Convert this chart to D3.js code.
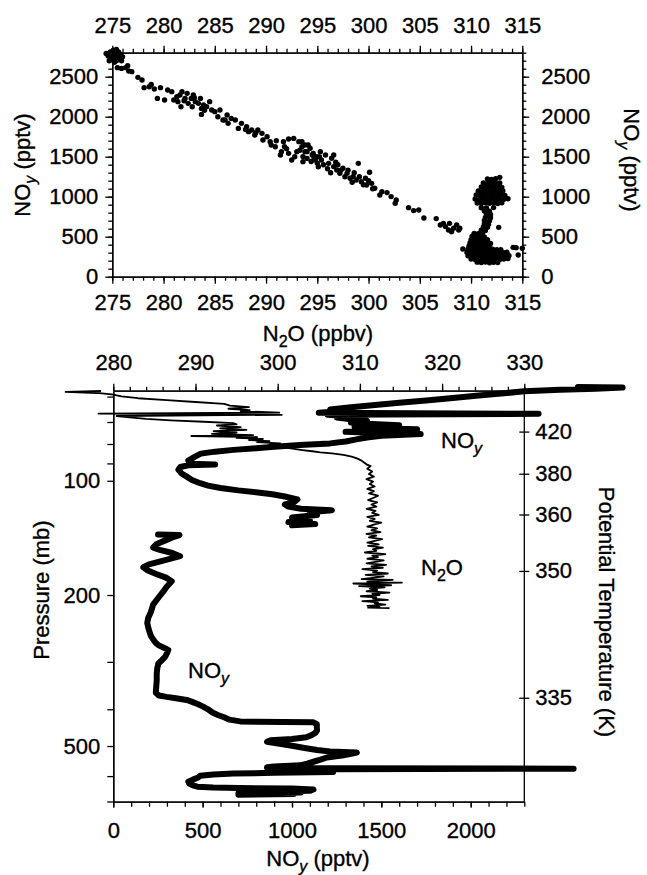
<!DOCTYPE html>
<html>
<head>
<meta charset="utf-8">
<script src="https://d3js.org/d3.v7.min.js"></script>
<style>
body { margin: 0; background: #fff; }
text { font-family: "Liberation Sans", Arial, Helvetica, sans-serif; font-size: 22px; fill: #000; stroke: #000; stroke-width: 0.35; }
.axis path, .axis line { stroke: #000; stroke-width: 1.3; }
</style>
</head>
<body>
<svg width="647" height="875"></svg>
<script>
// ---- top panel: NOy vs N2O scatter ----
var n2oTicksTop = [275, 280, 285, 290, 295, 300, 305, 310, 315];
var noyTicksTop = [0, 500, 1000, 1500, 2000, 2500];

var scatterClump = [[274.4,2790],[274.6,2760],[274.8,2810],[274.9,2720],[275.0,2770],[275.1,2830],[275.2,2740],
  [275.3,2790],[275.4,2700],[275.5,2760],[275.6,2810],[275.7,2730],[275.8,2780],[275.4,2840],[274.7,2700],
  [275.9,2700],[276.0,2750],[275.2,2680]];
var scatterBand = [[275.5,2613],[275.9,2604],[276.3,2613],[276.5,2638],[276.6,2571],[276.9,2563],[277.5,2492],
  [277.9,2459],[278.1,2363],[278.6,2375],[278.8,2404],[279.1,2346],[279.4,2229],[279.7,2363],[280.1,2208],
  [280.4,2333],[280.8,2313],[281.0,2208],[281.3,2250],[281.6,2271],[281.8,2313],[282.1,2229],[282.3,2292],
  [282.4,2167],[282.7,2229],[282.9,2271],[283.1,2188],[283.4,2167],[283.6,2229],[283.7,2104],[283.9,2146],
  [281.7,2125],[281.4,2188],[282.8,2125],[283.7,2029],[284.2,2125],[284.5,2188],[284.7,2083],[285.0,2063],
  [285.3,2000],[285.5,2083],[285.8,1958],[286.2,2021],[286.3,1917],[286.6,1979],[287.0,1958],[287.3,1854],
  [287.6,1917],[288.1,1875],[288.3,1813],[288.6,1833],[288.9,1771],[289.2,1833],[289.6,1792],[289.7,1708],
  [290.1,1750],[290.4,1688],[290.5,1646],[290.9,1625],
  [291.7,1688],[292.2,1721],[292.7,1729],[293.2,1688],[293.5,1625],[293.0,1563],[292.2,1542],[291.5,1563],
  [291.8,1625],[291.4,1521],[292.5,1458],[292.8,1500],[293.8,1563],[294.1,1646],[294.5,1521],[294.8,1458],
  [295.1,1375],[294.0,1479],[293.6,1438],
  [293.5,1688],[293.8,1646],[294.0,1563],[294.3,1605],[294.6,1542],[293.6,1501],[294.9,1501],[295.3,1563],
  [295.4,1459],[295.8,1521],[296.1,1417],[296.4,1480],[296.6,1521],[296.6,1376],[296.9,1334],[297.2,1292],
  [297.5,1355],[297.9,1292],[298.2,1230],[298.5,1251],[298.8,1209],[299.0,1417],[299.3,1188],[299.7,1230],
  [299.8,1147],[300.1,1305],[300.3,1167],[300.6,1105],[301.1,1021],[301.3,1063],[301.8,1051],[302.2,1001],
  [302.7,959],[302.6,917],[303.9,863],[304.4,826],[304.9,834],[305.4,734],[306.6,726],
  [295.0,1420],[295.6,1400],[296.0,1350],[295.2,1500],[294.4,1440],[296.3,1300],[297.0,1400],[297.7,1250],
  [298.0,1330],[298.4,1180],[299.1,1250],[299.5,1150],[300.0,1200],[300.4,1100],
  [282.0,2200],[283.0,2240],[284.0,2080],[286.0,1960],[288.0,1840],[289.0,1800],[291.0,1700],[292.0,1600],
  [293.3,1580],[294.7,1480],[296.8,1430],[297.3,1330],[298.6,1300]];
var scatterTropo = [[307.0,646],[307.5,626],[307.9,667],[308.3,605],[308.6,646],[308.9,605],[307.8,584],
  [307.3,667],[308.1,563],[308.8,584],[309.2,346],
  // dense cloud at the tropopause
  [310.6,182],[311.0,176],[311.4,184],[311.8,175],[312.2,181],[312.6,178],
  [310.0,222],[310.4,216],[310.8,224],[311.2,214],[311.6,221],[312.0,217],[312.4,223],[312.8,215],[313.2,220],[313.6,226],
  [309.7,262],[310.1,256],[310.5,264],[310.9,258],[311.3,262],[311.7,255],[312.1,263],[312.5,258],[312.9,261],[313.3,257],[313.7,264],
  [309.6,302],[310.0,296],[310.4,304],[310.8,298],[311.2,303],[311.6,297],[312.0,301],[312.4,296],[312.8,303],[313.2,299],[313.5,305],
  [309.7,342],[310.1,336],[310.5,344],[310.9,338],[311.3,341],[311.7,337],[312.1,343],[312.5,339],[312.9,336],
  [309.8,382],[310.2,376],[310.6,384],[311.0,378],[311.4,381],[311.8,377],
  [309.9,422],[310.3,417],[310.7,424],[311.1,418],[311.5,421],[311.9,416],
  [310.0,462],[310.4,456],[310.8,463],[311.2,457],[311.6,461],
  [310.1,502],[310.5,497],[310.9,504],[311.3,498],
  [310.3,542],[310.7,536],[311.1,544],
  [311.0,582],[311.4,578],[311.2,622],[311.6,618],[311.3,662],[311.7,657],[311.3,702],[311.8,698],
  [311.4,742],[311.9,737],[311.5,782],[311.9,778],[311.3,822],[311.8,818],[311.0,862],[311.5,858],[312.2,864],
  [312.7,617],[314.1,367],[314.4,363],[314.6,271],[315.0,355],
  [310.6,922],[311.0,916],[311.4,924],[311.8,918],[312.2,921],[312.6,915],[313.0,923],
  [310.4,972],[310.8,966],[311.2,974],[311.6,968],[312.0,971],[312.4,965],[312.8,973],[313.2,967],[313.6,975],
  [310.5,1022],[310.9,1016],[311.3,1024],[311.7,1018],[312.1,1021],[312.5,1015],[312.9,1023],[313.3,1017],
  [310.7,1072],[311.1,1066],[311.5,1074],[311.9,1068],[312.3,1071],[312.7,1065],[313.1,1073],
  [311.0,1122],[311.4,1116],[311.8,1124],[312.2,1118],[312.6,1121],[313.0,1115],
  [311.2,1172],[311.6,1166],[312.0,1174],[312.4,1168],[312.8,1171],
  [311.6,1222],[312.0,1216],[312.4,1224],[312.8,1242]];

// ---- bottom panel: vertical profiles ----
var n2oTicksBot = [280, 290, 300, 310, 320, 330];
var noyTicksBot = [0, 500, 1000, 1500, 2000];
var pressTicks = [100, 200, 500];
var pressMinor = [60, 70, 80, 90, 300, 400, 600, 700];
var thetaTicks = [420, 380, 360, 350, 335];
var thetaPress = [74.2, 95.8, 122.7, 172.8, 373];

// [pressure mb, NOy pptv]
var noyLower = [[672,700],[669,1010],[666,700],[663,1050],[660,760],[656,1100],[651,1120],[647,1000],[645,700],
  [643,560],[640,470],[635,445],[628,425],[621,420],[613,445],[605,475],[599,486],[594,560],[591,672],[588,900],
  [585,1230],[576,1230],[573.5,2576],[572,1230],[571,1100],[569,860],[566,900],[562,1045],[556,1085],[550,1120],
  [543,1160],[536,1195],[530,1280],[524,1330],[520,1363],[517,1213],[512,1140],[506,1070],[500,1008],[494,940],
  [487,860],[483,880],[479,1000],[474,1080],[468,1110],[462,1130],[455,1140],[446,1139],[438,1139],[433,1120],
  [432,950],[431.5,800],[430.5,710],[426,650],[420,620],[414,585],[408,555],[400,530],[393,500],[388,475],
  [383,445],[378,411],[374,350],[371,299],[368,255],[362,238],[350,240],[336,243],[322,243],[312,246],[303,252],
  [297,272],[291,290],[285,300],[279,308],[275,280],[271,252],[267,236],[262,224],[257,212],[252,205],[244,196],
  [237,190],[230,195],[222,210],[212,223],[204,250],[196,279],[190,300],[184,327],[180,295],[176,240],[172,190],
  [169,168],[166,200],[162,285],[158,374],[155,330],[152,260],[150,223],[147,240],[144,285],[141,330],[139,370],
  [138.5,250]];
var noyUpper = [[131,1000],[130,1130],[128.5,980],[127,1100],[125,1000],[123,1140],[121,1100],[119.5,1223],
  [118.5,1050],[117,980],[115.5,960],[114,1010],[112,1030],[110,960],[108.5,890],[107.5,820],[106,700],[104.5,600],
  [103,530],[101.5,486],[99.5,440],[97.5,411],[95.5,380],[93.5,364],[92,375],[91,420],[90.6,570],[90.2,430],
  [88.5,420],[86.5,455],[84.8,490],[83.8,570],[82.9,672],[82.1,800],[81.3,900],[80.5,1045],[79.7,1213],
  [78.8,1300],[77.8,1360],[76.9,1420],[76.1,1500],[75.3,1720],[74.8,1480],[74.3,1300],[73.7,1500],[73.2,1700],
  [72.6,1420],[72,1350],[71.4,1600],[70.8,1420],[70.2,1330],[69.5,1420],[68.8,1320],[68.1,1250],[67.5,1300],
  [67.0,1200],[66.6,2380],[66.2,1150],[65.6,1260],[64.9,1213],[64.0,1330],[63.2,1450],[62.3,1600],[61.4,1750],
  [60.5,1900],[59.7,2030],[58.9,2170],[58.1,2300],[57.6,2500],[57.2,2700],[56.8,2850],[56.6,2600]];
// [pressure mb, N2O ppbv]
var n2oProfile = [[216.5,313.6],[216,311.0],[215,312.4],[213.5,310.9],[212,313.1],[210.5,311.8],[209,312.2],
  [207.5,310.3],[206,313.4],[204.5,311.6],[203,312.0],[201.5,310.1],[200,312.4],[198.5,311.5],[197,313.6],
  [195.5,310.8],[194,312.1],[192.5,311.2],[191,313.0],[189.5,309.9],[188.5,313.8],[187.5,311.3],[186.5,309.2],
  [185.5,315.1],[184.5,310.9],[183.5,312.2],[182.5,314.0],[181.5,310.2],[180,311.8],[178.5,312.9],[177,310.7],
  [175.5,313.4],[174,311.6],[172.5,312.1],[171,310.3],[169.5,312.8],[168,311.4],[166.5,313.2],[165,310.8],
  [163.5,311.9],[162,312.9],[160.5,310.9],[159,312.2],[157.5,311.5],[156,313.1],[154.5,310.6],[153,312.0],
  [151.5,311.6],[150,312.8],[148.5,311.0],[147,312.3],[145.5,310.9],[144,311.8],[142.5,312.7],[141,311.1],
  [139.5,312.0],[138,310.8],[136.5,312.5],[135,311.4],[133.5,312.1],[132,310.9],[130.5,311.7],[129,312.6],
  [127.5,311.2],[126,311.8],[124.5,310.9],[123,312.3],[121.5,311.5],[120,311.9],[118.5,310.8],[117,312.0],
  [115.5,311.4],[114,312.1],[112.5,311.0],[111,311.6],[109.5,312.2],[108,311.1],[106.5,311.7],[105,310.9],
  [103.5,311.8],[102,311.2],[100.5,311.6],[99,310.8],[97.5,311.7],[96,311.1],[94.5,311.5],[93,310.9],
  [91.5,311.3],[90.5,310.8],
  [89.5,310.5],[88.5,310.2],[87.4,309.7],[86.4,309.0],[85.5,308.0],[84.7,306.6],[84.2,305.2],[83.6,304.2],
  [83.0,303.0],[82.2,301.6],[81.5,300.5],[80.9,300.0],[80.3,299.0],[79.7,300.3],[79.1,297.5],[78.6,299.0],
  [78.1,296.5],[77.6,298.2],[77.1,295.0],[76.7,297.5],[76.2,289.5],[75.8,297.0],[75.2,292.0],[74.6,295.0],
  [74.0,292.2],[73.4,296.2],[72.8,293.0],[72.2,295.5],[71.5,292.6],[71.0,295.0],[70.5,294.6],[69.9,291.0],
  [69.3,287.0],[68.7,284.0],[68.1,282.0],[67.5,280.4],[67.0,300.5],[66.5,278.2],[66.1,300.2],[65.6,295.5],
  [65.1,296.6],[64.6,294.0],[64.0,296.5],[63.4,294.2],[62.7,293.5],[62.0,290.0],[61.3,286.5],[60.6,283.0],
  [59.9,281.0],[59.2,279.8],[58.7,278.0],[58.3,274.2],[58.0,278.5]];

var svg = d3.select("svg");

// scales
var x1 = d3.scaleLinear().domain([275, 315]).range([112.3, 522.3]);
var y1 = d3.scaleLinear().domain([0, 2800]).range([276.7, 52.7]);
var xN = d3.scaleLinear().domain([280, 330]).range([113.3, 524.3]);
var xV = d3.scaleLinear().domain([0, 2300]).range([113.3, 524.3]);
var yP = d3.scaleLog().domain([700, 58]).range([801.5, 391]);

function axis(gen, scale, tx, ty, majors, minors, big, small, pad, fmt) {
  svg.append("g").attr("class", "axis")
    .attr("transform", "translate(" + tx + "," + ty + ")")
    .call(gen(scale).tickValues(minors).tickSize(small).tickSizeOuter(0).tickFormat(""));
  var g = svg.append("g").attr("class", "axis")
    .attr("transform", "translate(" + tx + "," + ty + ")")
    .call(gen(scale).tickValues(majors).tickSize(big).tickSizeOuter(0).tickPadding(pad)
      .tickFormat(fmt || d3.format("d")));
  g.attr("font-size", null).attr("font-family", null);
  return g;
}

// top panel frame
axis(d3.axisTop, x1, 0, 52.7, n2oTicksTop, d3.range(275, 316, 1), 7, 4, 13);
axis(d3.axisBottom, x1, 0, 276.7, n2oTicksTop, d3.range(275, 316, 1), 7, 4, 11);
axis(d3.axisLeft, y1, 112.3, 0, noyTicksTop, d3.range(0, 2801, 100), 7, 4, 7);
axis(d3.axisRight, y1, 522.3, 0, noyTicksTop, d3.range(0, 2801, 100), 7, 4, 12);

svg.append("g").selectAll("circle")
  .data(scatterClump.concat(scatterBand, scatterTropo))
  .enter().append("circle")
  .attr("cx", function(d) { return x1(d[0]); })
  .attr("cy", function(d) { return y1(d[1]); })
  .attr("r", 2.7)
  .attr("fill", "#000");

// bottom panel frame
axis(d3.axisTop, xN, 0, 390.7, n2oTicksBot, d3.range(280, 331, 2), 7, 4, 14);
axis(d3.axisBottom, xV, 0, 801.7, noyTicksBot, d3.range(0, 2301, 100), 6, 5, 15);
axis(d3.axisLeft, yP, 113.3, 0, pressTicks, pressMinor, 6, 6, 7);
var rt = svg.append("g").attr("class", "axis")
  .attr("transform", "translate(524.3,0)")
  .call(d3.axisRight(yP).tickValues(thetaPress).tickSize(5).tickSizeOuter(0).tickPadding(6)
    .tickFormat(function(d, i) { return thetaTicks[i]; }));
rt.attr("font-size", null).attr("font-family", null);
rt.selectAll(".tick line").attr("x1", -5);
rt.select(".domain").attr("d", "M0," + yP(700) + "V" + yP(58));

var lineV = d3.line().x(function(d) { return xV(d[1]); }).y(function(d) { return yP(d[0]); });
var lineN = d3.line().x(function(d) { return xN(d[1]); }).y(function(d) { return yP(d[0]); });

svg.append("path").attr("d", lineN(n2oProfile))
  .attr("fill", "none").attr("stroke", "#000").attr("stroke-width", 1.8).attr("stroke-linejoin", "round");
[noyLower, noyUpper].forEach(function(s) {
  svg.append("path").attr("d", lineV(s))
    .attr("fill", "none").attr("stroke", "#000").attr("stroke-width", 6)
    .attr("stroke-linejoin", "round").attr("stroke-linecap", "round");
});

// text with subscripts
function label(x, y, rot, anchor, parts) {
  var t = svg.append("text")
    .attr("transform", "translate(" + x + "," + y + ") rotate(" + rot + ")")
    .attr("text-anchor", anchor);
  var shift = 0;
  parts.forEach(function(p) {
    var s = t.append("tspan").text(p[0]);
    var want = p[1] ? 6 : 0;
    if (want !== shift) { s.attr("dy", want - shift); shift = want; }
    if (p[1]) { s.attr("font-size", "16px"); if (p[1] === "i") s.attr("font-style", "italic"); }
  });
  return t;
}
var noyTitle = [["NO"], ["y", "i"], [" (pptv)"]];
var n2oTitle = [["N"], ["2", "s"], ["O (ppbv)"]];

label(30, 165, -90, "middle", noyTitle);
label(624, 160, 90, "middle", noyTitle);
label(318, 341, 0, "middle", n2oTitle);
label(318, 866, 0, "middle", noyTitle);
label(49, 590, -90, "middle", [["Pressure (mb)"]]);
label(599, 612, 90, "middle", [["Potential Temperature (K)"]]);
label(441, 448, 0, "start", [["NO"], ["y", "i"]]);
label(421, 575, 0, "start", [["N"], ["2", "s"], ["O"]]);
label(188, 678, 0, "start", [["NO"], ["y", "i"]]);
</script>
</body>
</html>
